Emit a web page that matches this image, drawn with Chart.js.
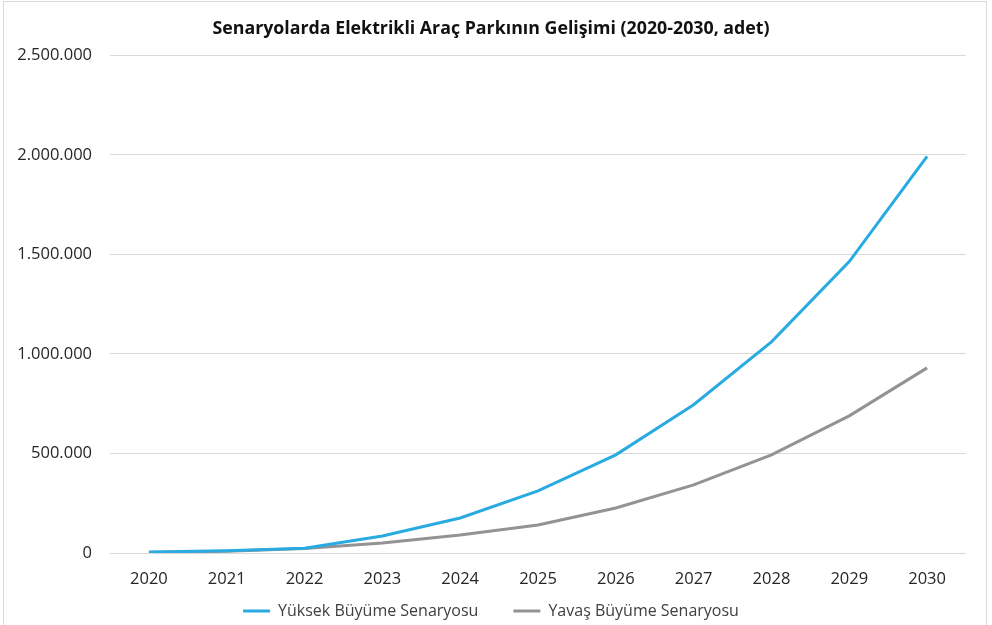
<!DOCTYPE html>
<html>
<head>
<meta charset="utf-8">
<script src="https://cdn.jsdelivr.net/npm/chart.js@4.4.1/dist/chart.umd.min.js"></script>
<style>
  html, body { margin: 0; padding: 0; background: #ffffff; }
  #wrap { position: relative; width: 992px; height: 625px; overflow: hidden; }
  #frame { position: absolute; left: 3px; top: 1px; width: 984px; height: 640px; border: 1px solid #d9d9d9; box-sizing: border-box; pointer-events: none; }
  canvas { position: absolute; left: 0; top: 0; }
</style>
</head>
<body>
<div id="wrap">
  <canvas id="c" width="992" height="629"></canvas>
  <div id="frame"></div>
</div>
<script>
const title = 'Senaryolarda Elektrikli Araç Parkının Gelişimi (2020-2030, adet)';
const years = ['2020','2021','2022','2023','2024','2025','2026','2027','2028','2029','2030'];
const seriesNames = ['Yüksek Büyüme Senaryosu', 'Yavaş Büyüme Senaryosu'];
const highGrowth = [5000, 11000, 24000, 85000, 176000, 312000, 493000, 745000, 1061000, 1464000, 1992000];
const slowGrowth = [3000, 9000, 22000, 50000, 90000, 141000, 226000, 342000, 493000, 689000, 930000];
const yTicks = [0, 500000, 1000000, 1500000, 2000000, 2500000];

function fmt(v) {
  return String(Math.round(v)).replace(/\B(?=(\d{3})+(?!\d))/g, '.');
}

const FONT = "'Open Sans', sans-serif";

// let the x labels draw below the (compact) x-axis box
const xLabelRoom = {
  id: 'xLabelRoom',
  afterLayout(chart) {
    const sx = chart.scales.x;
    sx.bottom = sx.top + 45;
  }
};

new Chart(document.getElementById('c'), {
  type: 'line',
  data: {
    labels: years,
    datasets: [
      { label: seriesNames[0], data: highGrowth, borderColor: '#29abe2', backgroundColor: '#29abe2', borderWidth: 3, pointRadius: 0, tension: 0, pointStyle: 'line' },
      { label: seriesNames[1], data: slowGrowth, borderColor: '#939393', backgroundColor: '#939393', borderWidth: 3, pointRadius: 0, tension: 0, pointStyle: 'line' }
    ]
  },
  plugins: [xLabelRoom],
  options: {
    responsive: false,
    animation: false,
    devicePixelRatio: 1,
    layout: { padding: { left: 16, right: 26, top: 10, bottom: 0 } },
    plugins: {
      title: {
        display: true,
        text: title,
        color: '#111111',
        font: { family: FONT, size: 17.8, weight: 'bold' },
        padding: { top: 8, bottom: 16 }
      },
      legend: {
        display: true,
        position: 'bottom',
        labels: {
          usePointStyle: true,
          pointStyleWidth: 27,
          boxHeight: 3,
          color: '#404040',
          font: { family: FONT, size: 16 },
          padding: 35
        }
      },
      tooltip: { enabled: false }
    },
    scales: {
      x: {
        offset: true,
        grid: { display: false, drawTicks: false },
        border: { display: false },
        ticks: { color: '#262626', font: { family: FONT, size: 16.5 }, padding: 16, autoSkip: false, maxRotation: 0 },
        afterFit: (axis) => { axis.height = 15; }
      },
      y: {
        min: 0,
        max: 2500000,
        afterBuildTicks: (axis) => { axis.ticks = yTicks.map(v => ({ value: v })); },
        grid: { color: '#d9d9d9', lineWidth: 1, drawTicks: false },
        border: { display: false },
        ticks: { color: '#262626', font: { family: FONT, size: 16.5 }, padding: 18, callback: (v) => fmt(v) },
        afterFit: (axis) => { axis.width = 94; }
      }
    }
  }
});
</script>
</body>
</html>
